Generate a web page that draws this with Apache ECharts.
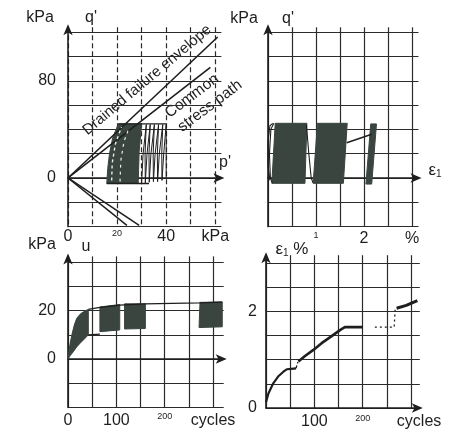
<!DOCTYPE html>
<html>
<head>
<meta charset="utf-8">
<script src="https://cdn.jsdelivr.net/npm/echarts@6/dist/echarts.min.js"></script>
<style>html,body{margin:0;padding:0;background:#fff}#c{width:456px;height:435px}</style>
</head>
<body>
<div id="c"></div>
<script>
// ---------- DATA ----------
// Panel 1: q' vs p' (kPa)
const p1Envelope = [[0, 0], [61, 116]];
const p1CommonPath = [[0, 0], [58, 91]];
const p1ExtA = [[0, 0], [24, -39]];
const p1ExtB = [[0, 0], [29, -39]];
const p1Mass = [[15.8, -4.5], [16.2, 8], [16.9, 20], [18.2, 33], [20.5, 44.5], [30, 44.5], [29, 22], [28.6, -4.5]];
const p1Cycles = [[40, 0], [40, 44], [39, 20], [38.3, -2], [38.2, 20], [38.6, 44], [37.2, 20], [36.5, -3], [36.4, 20], [36.9, 44],
  [35.5, 20], [34.8, -3], [34.7, 20], [35.2, 44], [33.8, 20], [33.1, -3.5], [33, 20], [33.5, 44], [32.2, 20], [31.5, -4],
  [31.4, 20], [31.9, 44], [30.6, 20], [30, -4]];
const p1Top = [[20.5, 44.5], [40, 44.5]];
const p1Bottom = [[15.8, -4.5], [33, -4.5]];
const p1StreakA = [[17.8, -2], [18, 12], [19.3, 28], [21.8, 42]];
const p1StreakB = [[21.2, -3], [21.5, 14], [22.8, 30], [25, 42]];

// Panel 2: q' vs eps1 (%)
const p2Block1 = [[0.08, -4.4], [0.15, 45], [0.81, 45], [0.77, -4.4]];
const p2Block2 = [[0.94, -4.4], [1.03, 45], [1.65, 45], [1.57, -4.4]];
const p2Block3 = [[2.04, -5], [2.14, 44.5], [2.26, 44.5], [2.16, -5]];
const p2LoopA = [[0.1, 45], [0.04, 43], [0.0, 30], [0.0, 10], [0.04, -2]];
const p2LoopB = [[0.12, 45], [0.06, 40], [0.03, 20], [0.05, 0], [0.09, -4]];
const p2Link12 = [[0.8, 44], [0.85, 20], [0.9, 0], [0.94, -4]];
const p2Link23 = [[1.64, 29], [2.16, 36]];

// Panel 3: u (kPa) vs cycles
const p3Band = [[0, 0], [4, 6], [8, 10], [13, 14], [18, 16.8], [25, 18.5], [32, 19.5], [42, 20.5],
  [42, 10], [35, 8.5], [25, 6.5], [18, 5], [11, 3], [5, 1.5], [0, 0]];
const p3Block1 = [[66, 11.3], [66, 21.5], [107, 22.5], [107, 12]];
const p3Block2 = [[117, 12.4], [117, 22.8], [160, 22.8], [160, 12.6]];
const p3Block3 = [[271, 13], [273, 23.4], [319, 23.6], [319, 13.3]];
const p3Upper = [[42, 20.5], [66, 21.3], [107, 22.3], [160, 22.8], [271, 23.2], [319, 23.5]];
const p3Lower = [[42, 10], [66, 10.3]];

// Panel 4: eps1 (%) vs cycles
const p4SegA = [[0, 0.12], [5, 0.3], [15, 0.51], [25, 0.65], [36, 0.75], [43, 0.8], [52, 0.81], [62, 0.82]];
const p4StepA = [[62, 0.82], [65, 0.83], [66, 0.95]];
const p4SegB = [[67, 0.96], [80, 1.07], [98, 1.2], [115, 1.34], [135, 1.48], [153, 1.61], [163, 1.67], [200, 1.67]];
const p4StepB = [[225, 1.67], [265, 1.67], [267, 2.03]];
const p4SegC = [[270, 2.06], [290, 2.12], [313, 2.22]];

// Tick labels
const p1YLabels = {0: '0', 80: '80'};
const p1XLabels = {0: '0', 20: '{s|20}', 40: '40', 60: 'kPa'};
const p2XLabels = {1: '{s|1}', 2: '2', 3: '%'};
const p3YLabels = {0: '0', 20: '20'};
const p3XLabels = {0: '0', 100: '100', 200: '{s|200}', 300: 'cycles'};
const p4YLabels = {0: '0', 2: '2'};
const p4XLabels = {100: '100', 200: '{s|200}', 300: '{c|cycles}'};

// ---------- CHART ----------
const FONT = '"Liberation Sans", Arial, Helvetica, sans-serif';
const INK = '#1e1e1e';
const FILL = '#3a453f';
const axisLineStyle = {color: INK, width: 1.6};
const splitStyle = {color: '#2b2b2b', width: 1.2};
const lbl = (map) => (v) => {
  const k = Math.round(v * 100) / 100;
  return map[k] !== undefined ? map[k] : '';
};
const labelBase = {fontFamily: FONT, fontSize: 16, color: INK,
  rich: {s: {fontSize: 9, fontFamily: FONT, color: INK}, c: {fontSize: 16, fontFamily: FONT, color: INK, padding: [0, 0, 0, 16]}}};

function arrowAxisLine() {
  return {show: true, onZero: true, lineStyle: axisLineStyle, symbol: ['none', 'arrow'], symbolSize: [7, 11], symbolOffset: [0, 3]};
}

const grids = [
  {left: 68, top: 27.3, width: 153.4, height: 199.3},
  {left: 268, top: 27.3, width: 150.5, height: 199.3},
  {left: 68, top: 256.4, width: 155.7, height: 151},
  {left: 266, top: 255.2, width: 153.8, height: 152.8}
];

const xAxis = [
  // grid 0: line at zero
  {gridIndex: 0, type: 'value', position: 'top', min: 0, max: 62.5, interval: 10, axisLine: arrowAxisLine(), axisTick: {show: false}, axisLabel: {show: false},
    splitLine: {show: true, showMaxLine: false, lineStyle: Object.assign({type: [5, 3]}, splitStyle)}},
  // grid 0: labels at bottom
  {gridIndex: 0, type: 'value', position: 'bottom', min: 0, max: 62.5, interval: 10, axisLine: {show: false, onZero: false}, axisTick: {show: false}, splitLine: {show: false},
    axisLabel: Object.assign({margin: 2, formatter: lbl(p1XLabels), showMaxLabel: false}, labelBase)},
  // grid 1
  {gridIndex: 1, type: 'value', position: 'top', min: 0, max: 3.135, interval: 0.5, axisLine: arrowAxisLine(), axisTick: {show: false}, axisLabel: {show: false},
    splitLine: {show: true, showMaxLine: false, lineStyle: splitStyle}},
  {gridIndex: 1, type: 'value', position: 'bottom', min: 0, max: 3.135, interval: 0.5, axisLine: {show: false, onZero: false}, axisTick: {show: false}, splitLine: {show: false},
    axisLabel: Object.assign({margin: 4, formatter: lbl(p2XLabels), showMaxLabel: false}, labelBase)},
  // grid 2
  {gridIndex: 2, type: 'value', position: 'top', min: 0, max: 322, interval: 50, axisLine: arrowAxisLine(), axisTick: {show: false}, axisLabel: {show: false},
    splitLine: {show: true, showMaxLine: false, lineStyle: splitStyle}},
  {gridIndex: 2, type: 'value', position: 'bottom', min: 0, max: 322, interval: 50, axisLine: {show: false, onZero: false}, axisTick: {show: false}, splitLine: {show: false},
    axisLabel: Object.assign({margin: 5, formatter: lbl(p3XLabels), showMaxLabel: false}, labelBase)},
  // grid 3
  {gridIndex: 3, type: 'value', position: 'bottom', min: 0, max: 318, interval: 50, axisLine: arrowAxisLine(), axisTick: {show: false},
    splitLine: {show: true, showMaxLine: false, lineStyle: splitStyle},
    axisLabel: Object.assign({margin: 6, formatter: lbl(p4XLabels), showMaxLabel: false}, labelBase)}
];

const yAxis = [
  {gridIndex: 0, type: 'value', min: -40, max: 124, interval: 20, axisLine: Object.assign(arrowAxisLine(), {onZero: false}), axisTick: {show: false},
    splitLine: {show: true, showMaxLine: false, lineStyle: splitStyle},
    axisLabel: Object.assign({margin: 12, formatter: lbl(p1YLabels), showMaxLabel: false}, labelBase)},
  {gridIndex: 1, type: 'value', min: -40, max: 124, interval: 20, axisLine: Object.assign(arrowAxisLine(), {onZero: false}), axisTick: {show: false},
    splitLine: {show: true, showMaxLine: false, lineStyle: splitStyle}, axisLabel: {show: false}},
  {gridIndex: 2, type: 'value', min: -20, max: 42.4, interval: 10, axisLine: Object.assign(arrowAxisLine(), {onZero: false}), axisTick: {show: false},
    splitLine: {show: true, showMaxLine: false, lineStyle: splitStyle},
    axisLabel: Object.assign({margin: 12, formatter: lbl(p3YLabels), showMaxLabel: false}, labelBase)},
  {gridIndex: 3, type: 'value', min: 0, max: 3.157, interval: 0.5, axisLine: Object.assign(arrowAxisLine(), {onZero: false}), axisTick: {show: false},
    splitLine: {show: true, showMaxLine: false, lineStyle: splitStyle},
    axisLabel: Object.assign({margin: 9, formatter: lbl(p4YLabels), showMaxLabel: false}, labelBase)}
];

function line(xi, yi, data, width, extra) {
  return Object.assign({type: 'line', xAxisIndex: xi, yAxisIndex: yi, data: data, symbol: 'none', silent: true, clip: false,
    lineStyle: {color: INK, width: width}}, extra || {});
}
function poly(xi, yi, pts, color) {
  return {type: 'custom', xAxisIndex: xi, yAxisIndex: yi, silent: true, clip: false, data: [0],
    renderItem: function (params, api) {
      return {type: 'polygon', shape: {points: pts.map(function (p) { return api.coord(p); })},
        style: {fill: color, stroke: color, lineWidth: 1}};
    }};
}

const series = [
  // panel 1
  line(0, 0, p1Envelope, 1.6),
  line(0, 0, p1CommonPath, 1.6),
  line(0, 0, p1ExtA, 1.5),
  line(0, 0, p1ExtB, 1.5),
  poly(0, 0, p1Mass, FILL),
  line(0, 0, p1Cycles, 1),
  line(0, 0, p1Top, 1.4),
  line(0, 0, p1Bottom, 1.4),
  line(0, 0, p1StreakA, 1.4, {lineStyle: {color: '#e8ece8', width: 1.4, type: [3, 3]}}),
  line(0, 0, p1StreakB, 1.2, {lineStyle: {color: '#e8ece8', width: 1.2, type: [3, 4]}}),
  // panel 2
  poly(2, 1, p2Block1, FILL),
  poly(2, 1, p2Block2, FILL),
  poly(2, 1, p2Block3, FILL),
  line(2, 1, p2LoopA, 1.1),
  line(2, 1, p2LoopB, 1.1),
  line(2, 1, p2Link12, 1.1),
  line(2, 1, p2Link23, 1.4),
  // panel 3
  poly(4, 2, p3Band, FILL),
  poly(4, 2, p3Block1, FILL),
  poly(4, 2, p3Block2, FILL),
  poly(4, 2, p3Block3, FILL),
  line(4, 2, p3Upper, 1.3),
  line(4, 2, p3Lower, 1.3),
  // panel 4
  line(6, 3, p4SegA, 2.2),
  line(6, 3, p4StepA, 1.3, {lineStyle: {color: INK, width: 1.3, type: [3, 2]}}),
  line(6, 3, p4SegB, 2.6),
  line(6, 3, p4StepB, 1.3, {lineStyle: {color: INK, width: 1.3, type: [2, 3]}}),
  line(6, 3, p4SegC, 3)
];

function txt(x, y, text, size, extra) {
  return Object.assign({type: 'text', x: x, y: y, silent: true,
    style: {text: text, font: size + 'px ' + FONT, fill: INK, align: 'center', verticalAlign: 'middle'}}, extra || {});
}
function epsTxt(x, y, suffix) {
  return {type: 'text', x: x, y: y, silent: true,
    style: {text: '{e|ε}{s|1}' + (suffix ? '{e|' + suffix + '}' : ''), align: 'center', verticalAlign: 'middle', fill: INK,
      rich: {e: {fontSize: 17, fontFamily: FONT, fill: INK}, s: {fontSize: 10, fontFamily: FONT, fill: INK, verticalAlign: 'bottom', padding: [8, 0, 0, 0]}}}};
}
const deg = Math.PI / 180;
const graphic = [
  txt(40, 18, 'kPa', 16), txt(91, 18, "q'", 16),
  txt(225, 163, "p'", 16),
  txt(244, 19, 'kPa', 16), txt(288, 19, "q'", 16),
  epsTxt(435, 170, ''),
  txt(42, 245, 'kPa', 16), txt(86, 247, 'u', 16),
  epsTxt(292, 249, ' %'),
  txt(147, 80, 'Drained failure envelope', 15, {rotation: 40 * deg}),
  txt(192, 96, 'Common', 15.5, {rotation: 37 * deg}),
  txt(210, 106, 'stress path', 15.5, {rotation: 37 * deg})
];

const chart = echarts.init(document.getElementById('c'), null, {renderer: 'canvas'});
chart.setOption({animation: false, backgroundColor: '#fff', grid: grids, xAxis: xAxis, yAxis: yAxis, series: series, graphic: graphic});
</script>
</body>
</html>
